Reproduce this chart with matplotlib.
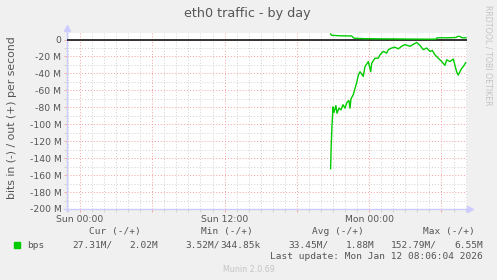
import numpy as np
import matplotlib
matplotlib.use('Agg')
import matplotlib.pyplot as plt
from matplotlib.ticker import MultipleLocator, FuncFormatter

# hours since Sun 00:00, values in Mbit/s (in = negative, out = positive)
t_in = [20.80, 20.85, 20.91, 21.00, 21.08, 21.24, 21.33, 21.49, 21.66, 21.83,
        21.99, 22.16, 22.32, 22.41, 22.49, 22.68, 22.82, 22.96, 23.10, 23.24,
        23.51, 23.65, 23.93, 24.13, 24.21, 24.48, 24.76, 24.90, 25.17, 25.45,
        25.59, 25.87, 26.14, 26.41, 26.69, 26.97, 27.39, 27.63, 27.94, 28.22,
        28.49, 28.77, 29.05, 29.24, 29.46, 29.73, 30.02, 30.29, 30.43, 30.71,
        30.98, 31.26, 31.39, 31.68, 31.81, 32.01]
v_in = [-152.5, -125, -103, -79.5, -86, -78, -87, -81, -83, -77,
        -81, -74, -72, -81, -70, -65, -58, -51, -42, -38,
        -43.5, -32, -26, -38, -28, -22, -22, -18, -14, -16,
        -12, -10, -9, -11, -8, -6, -8, -6, -3.5, -7,
        -12, -10, -14, -13, -18, -22, -26, -30.5, -24, -26,
        -23, -38, -42, -34, -32, -27.3]

t_out = [20.80, 20.87, 21.58, 22.55, 22.74, 23.65, 24.90, 26.14, 27.39, 29.54,
         29.63, 30.71, 31.20, 31.37, 31.54, 31.70, 32.03]
v_out = [6.55, 5.0, 4.4, 4.2, 1.5, 1.0, 0.8, 0.7, 0.5, 0.4,
         2.0, 2.1, 2.4, 3.8, 3.6, 2.1, 2.02]

x_labels = {0: 'Sun 00:00', 12: 'Sun 12:00', 24: 'Mon 00:00'}

legend_cols = ['Cur (-/+)', 'Min (-/+)', 'Avg (-/+)', 'Max (-/+)']
in_stats = ['27.31M', '3.52M', '33.45M', '152.79M']
out_stats = ['2.02M', '344.85k', '1.88M', '6.55M']

W, H = 497, 280
bg = '#F0F0F0'
txt = '#555555'
green = '#00CC00'

fig = plt.figure(figsize=(W / 100, H / 100), dpi=100, facecolor=bg)
ax = fig.add_axes([67 / W, 71 / H, 400 / W, 176 / H])
ax.set_facecolor('white')

ax.set_xlim(-1.08, 32.12)
ax.set_ylim(-200, 7.7)

ax.xaxis.set_major_locator(MultipleLocator(6))
ax.xaxis.set_minor_locator(MultipleLocator(1))
ax.yaxis.set_major_locator(MultipleLocator(20))
ax.yaxis.set_minor_locator(MultipleLocator(10))
ax.xaxis.set_major_formatter(FuncFormatter(lambda v, p: x_labels.get(int(round(v)), '')))
ax.yaxis.set_major_formatter(FuncFormatter(lambda v, p: '0' if v == 0 else '%d M' % v))

ax.grid(which='minor', color='#d0d0d0', linestyle=(0, (1, 2)), linewidth=0.7)
ax.grid(which='major', color='#f4a0a0', linestyle=(0, (1, 2)), linewidth=0.7)
ax.set_axisbelow(True)

ax.tick_params(which='both', labelsize=6.7, labelcolor=txt, length=2, width=0.6, pad=2)
ax.tick_params(which='major', color='#f4a0a0')
ax.tick_params(which='minor', color='#cccccc')

for s in ['top', 'right', 'left', 'bottom']:
    ax.spines[s].set_visible(False)

# axes with arrows
axis_col = '#ccccff'
ax.plot([0, 0], [-0.01, 1.03], transform=ax.transAxes, color=axis_col, lw=1, clip_on=False)
ax.plot([-0.008, 1.008], [0, 0], transform=ax.transAxes, color=axis_col, lw=1, clip_on=False)
ax.plot(0, 1.03, marker='^', ms=4, color=axis_col, transform=ax.transAxes, clip_on=False)
ax.plot(1.008, 0, marker='>', ms=4, color=axis_col, transform=ax.transAxes, clip_on=False)

ax.axhline(0, color='black', lw=1.1, zorder=3)
ax.plot(t_in, v_in, color=green, lw=1.0, zorder=4)
ax.plot(t_out, v_out, color=green, lw=1.0, zorder=4)

ax.set_ylabel('bits in (-) / out (+) per second', fontsize=7.8, color=txt)
ax.yaxis.set_label_coords((17 - 67) / 400, 0.52)

fig.text(247.7 / W, 1 - 13 / H, 'eth0 traffic - by day', ha='center', va='center',
         fontsize=9.2, color=txt)
fig.text(488 / W, 1 - 5 / H, 'RRDTOOL / TOBI OETIKER', rotation=270, ha='center', va='top',
         fontsize=5.7, color='#c4c4c4')

# legend block
mono = 'DejaVu Sans Mono'
fs = 6.8
head_x = [89, 201, 312.3, 423.3]
slash_x = [112.4, 219.7, 329, 437]
end_x = [157.7, 261, 375, 482.7]
for i in range(4):
    fig.text(head_x[i] / W, 1 - 231.7 / H, legend_cols[i], ha='left', va='center',
             fontsize=fs, family=mono, color=txt)
    fig.text(slash_x[i] / W, 1 - 245 / H, in_stats[i] + '/', ha='right', va='center',
             fontsize=fs, family=mono, color=txt)
    fig.text(end_x[i] / W, 1 - 245 / H, out_stats[i], ha='right', va='center',
             fontsize=fs, family=mono, color=txt)

fig.patches.append(plt.Rectangle((14 / W, 1 - 248 / H), 6 / W, 6 / H, transform=fig.transFigure,
                                 color=green, figure=fig))
fig.text(26.7 / W, 1 - 245 / H, 'bps', ha='left', va='center', fontsize=fs, family=mono, color=txt)
fig.text(482.7 / W, 1 - 256.7 / H, 'Last update: Mon Jan 12 08:06:04 2026', ha='right', va='center',
         fontsize=fs, family=mono, color=txt)
fig.text(249 / W, 1 - 269 / H, 'Munin 2.0.69', ha='center', va='center', fontsize=5.8, color='#c4c4c4')

fig.savefig('out.png', dpi=100, facecolor=bg)
